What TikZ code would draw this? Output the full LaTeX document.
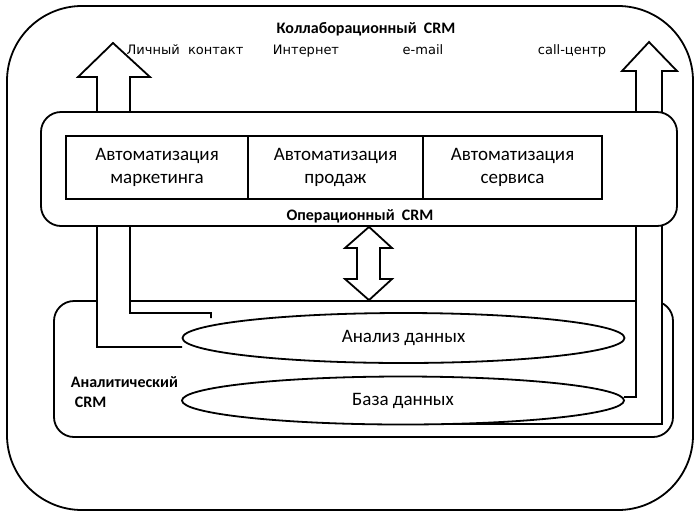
\documentclass[tikz,border=0pt]{standalone}
\usepackage{fontspec}
\setmainfont{Carlito}
\newfontfamily\chanfont{DejaVu Sans}
\usetikzlibrary{shapes.geometric}

\begin{document}
\begin{tikzpicture}[x=1pt, y=-1pt, line width=1.8pt,
  crmzone/.style={draw, fill=white, rounded corners=#1, inner sep=0pt},
  autobox/.style={draw, fill=white, minimum height=63pt, inner sep=0pt, align=center, font=\fontsize{19}{23}\selectfont},
  store/.style={draw, fill=white, ellipse, inner sep=0pt, minimum width=442pt, font=\fontsize{19}{23}\selectfont},
  crmlabel/.style={font=\bfseries\fontsize{16}{20}\selectfont, inner sep=0pt, anchor=base},
  chan/.style={font=\chanfont\fontsize{13}{15}\selectfont, inner sep=0pt, anchor=base}]
\useasboundingbox (0,0) rectangle (695,512);

% outer and analytical zones
\node[crmzone=75pt, minimum width=686pt, minimum height=504pt] (collab) at (350,258) {};
\node[crmzone=20pt, minimum width=619pt, minimum height=136pt] (anal) at (363.5,369) {};

% channels going up
\draw[fill=white] (182,347) -- (97,347) -- (97,77) -- (78,77) -- (113,43) -- (150,77) -- (130,77) -- (130,313) -- (211,313) -- (211,318);
\draw[fill=white] (624,397) -- (636,397) -- (636,71) -- (622,71) -- (649,42) -- (677,71) -- (662,71) -- (662,424) -- (403,424);

% operational zone
\node[crmzone=20pt, minimum width=636pt, minimum height=114pt] (oper) at (359,169) {};
\node[autobox, minimum width=182pt] (mark) at (157,167.5) {Автоматизация\\маркетинга};
\node[autobox, minimum width=175pt] (sale) at (335.5,167.5) {Автоматизация\\продаж};
\node[autobox, minimum width=179pt] (serv) at (512.5,167.5) {Автоматизация\\сервиса};

% data
\node[store, minimum height=50pt] (analiz) at (403.5,338) {Анализ данных};
\node[store, minimum height=48pt] (baza) at (403,400.5) {База данных};

% exchange
\draw[fill=white] (oper.south -| 369,0) -- (392,248) -- (380,248) -- (380,279) -- (392,279) -- (anal.north -| 369,0)
  -- (345,279) -- (357,279) -- (357,248) -- (345,248) -- cycle;

% labels
\node[crmlabel] (collabtxt) at (366,33) {Коллаборационный~~CRM};
\node[chan] (personal) at (185,54) {Личный~~контакт};
\node[chan] (web) at (306,54) {Интернет};
\node[chan] (mail) at (423,54) {e-mail};
\node[chan] (callc) at (572,54) {call-центр};
\node[crmlabel] (opertxt) at (360,220) {Операционный~~CRM};
\node[crmlabel, anchor=base west] (analtxt) at (70,387) {Аналитический};
\node[crmlabel, anchor=base west] (analcrm) at (74,407) {CRM};
\end{tikzpicture}
\end{document}
